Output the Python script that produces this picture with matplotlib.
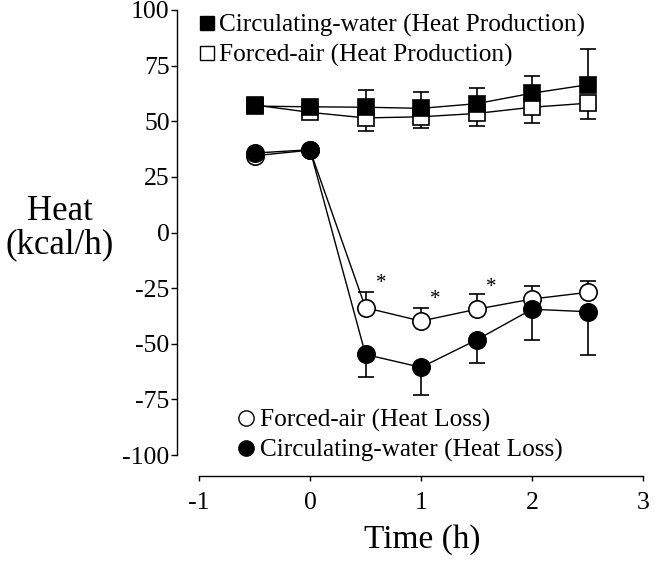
import matplotlib
matplotlib.use("Agg")
import matplotlib.pyplot as plt
from matplotlib.lines import Line2D
import numpy as np

plt.rcParams['font.family'] = ['Liberation Serif', 'DejaVu Serif']
plt.rcParams['axes.unicode_minus'] = False

time = [-0.5, 0, 0.5, 1, 1.5, 2, 2.5]
cw_prod = [56.8, 56.5, 56.3, 55.8, 57.9, 62.6, 66.4]
cw_prod_err_up = [0, 0, 7.7, 7.2, 7.1, 7.9, 16.2]
fa_prod = [57.3, 54.0, 51.5, 52.0, 53.5, 56.3, 58.1]
fa_prod_err_dn = [0, 0, 6.0, 5.2, 5.8, 7.2, 6.9]
fa_loss = [34.5, 37.0, -33.8, -39.8, -34.5, -29.9, -26.9]
fa_loss_err_up = [0, 0, 6.9, 6.0, 6.7, 6.0, 5.1]
cw_loss = [35.7, 37.2, -54.8, -60.6, -48.3, -34.5, -35.6]
cw_loss_err_dn = [0, 0, 10.3, 12.6, 10.5, 13.8, 19.5]
star_x = [0.64, 1.13, 1.63]
star_y = [-22.8, -30.0, -24.8]

labels_prod = ["Circulating-water (Heat Production)", "Forced-air (Heat Production)"]
labels_loss = ["Forced-air (Heat Loss)", "Circulating-water (Heat Loss)"]

W, H = 662, 563
fig = plt.figure(figsize=(W / 100, H / 100), dpi=100)
ax = fig.add_axes([199 / W, 1 - 455 / H, (643 - 199) / W, (455 - 10) / H])

def err(ax, x, y, e, up, z):
    x = np.array(x); y = np.array(y); e = np.array(e)
    m = e > 0
    if up:
        yerr = [np.zeros(m.sum()), e[m]]
    else:
        yerr = [e[m], np.zeros(m.sum())]
    ax.errorbar(x[m], y[m], yerr=yerr, fmt='none', ecolor='black',
                elinewidth=1.2, capsize=6, capthick=1.2, zorder=z)

lw = 1.0
ms_sq = 12
ms_c = 12.5
err(ax, time, fa_prod, fa_prod_err_dn, False, 1)
ax.plot(time, fa_prod, color='black', lw=lw, marker='s', ms=ms_sq,
        mfc='white', mec='black', mew=1.2, zorder=2)
err(ax, time, cw_prod, cw_prod_err_up, True, 3)
ax.plot(time, cw_prod, color='black', lw=lw, marker='s', ms=ms_sq,
        mfc='black', mec='black', mew=1.2, zorder=4)
err(ax, time, fa_loss, fa_loss_err_up, True, 1)
ax.plot(time, fa_loss, color='black', lw=lw, marker='o', ms=ms_c,
        mfc='white', mec='black', mew=1.2, zorder=2)
err(ax, time, cw_loss, cw_loss_err_dn, False, 3)
ax.plot(time, cw_loss, color='black', lw=lw, marker='o', ms=ms_c,
        mfc='black', mec='black', mew=1.2, zorder=4)

for sx, sy in zip(star_x, star_y):
    ax.text(sx, sy, "*", fontsize=15, ha='center', va='center')

ax.set_xlim(-1, 3)
ax.set_ylim(-100, 100)
ax.set_xticks([-1, 0, 1, 2, 3])
ax.set_yticks(np.arange(-100, 101, 25))
for s in ['top', 'right']:
    ax.spines[s].set_visible(False)
ax.spines['left'].set_position(('outward', 22 * 0.72))
ax.spines['bottom'].set_position(('outward', 21 * 0.72))
ax.spines['left'].set_linewidth(1.0)
ax.spines['bottom'].set_linewidth(1.0)
ax.tick_params(direction='out', width=1.0, labelsize=18.5)
ax.tick_params(axis='y', length=4.3, pad=1.0)
ax.tick_params(axis='x', length=3.8, pad=8.0)

fig.text(60 / W, 1 - 228 / H, "Heat\n(kcal/h)", fontsize=25, ha='center',
         va='center', linespacing=1.0)
fig.text(422 / W, 1 - 540 / H, "Time (h)", fontsize=24, ha='center', va='center')

h_prod = [Line2D([], [], ls='none', marker='s', ms=9.8, mfc='black', mec='black'),
          Line2D([], [], ls='none', marker='s', ms=9.8, mfc='white', mec='black')]
leg1 = ax.legend(h_prod, labels_prod, loc='upper left',
                 bbox_to_anchor=(197.2 / W, 1 - 14 / H), bbox_transform=fig.transFigure,
                 frameon=False, fontsize=18.2, borderpad=0, borderaxespad=0,
                 handlelength=0.8, handletextpad=0.06, labelspacing=0.27)
ax.add_artist(leg1)
h_loss = [Line2D([], [], ls='none', marker='o', ms=11, mfc='white', mec='black'),
          Line2D([], [], ls='none', marker='o', ms=11, mfc='black', mec='black')]
ax.legend(h_loss, labels_loss, loc='upper left',
          bbox_to_anchor=(235.7 / W, 1 - 409 / H), bbox_transform=fig.transFigure,
          frameon=False, fontsize=18.2, borderpad=0, borderaxespad=0,
          handlelength=0.8, handletextpad=0.18, labelspacing=0.27)

fig.savefig("out.png", dpi=100)
